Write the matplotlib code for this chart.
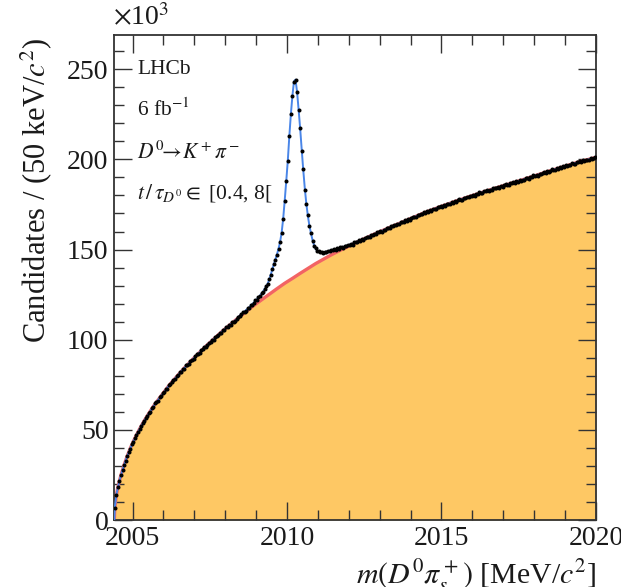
"""D*+ -> D0 pi+ mass distribution with total fit and background (LHCb style)."""

import numpy as np
import matplotlib

matplotlib.use("Agg")

import matplotlib.pyplot as plt
from matplotlib.ticker import MultipleLocator

PALETTE = {
    "fill": "#FEC864",
    "bkg": "#F26464",
    "fit": "#4A86E8",
    "data": "#000000",
    "ink": "#1A1A1A",
    "axis": "#333333",
}

plt.rcParams["font.family"] = ["Liberation Serif", "DejaVu Serif"]
plt.rcParams["mathtext.fontset"] = "stix"

# binning of the histogram, MeV/c^2
BIN_LO = 2004.4
BIN_WIDTH = 0.05

# candidates per bin, in units of 10^3
COUNTS = [
    6.9, 14.0, 18.1, 21.8, 24.8, 27.9, 30.6, 32.9, 35.3, 37.8,
    39.6, 41.9, 43.5, 45.6, 46.9, 49.0, 50.3, 51.9, 53.7, 54.8,
    56.7, 57.6, 59.5, 60.1, 61.9, 62.8, 64.8, 65.5, 66.2, 68.0,
    68.8, 70.4, 70.9, 72.5, 72.9, 74.8, 75.5, 76.3, 77.9, 78.2,
    79.8, 80.3, 81.9, 82.1, 83.5, 84.0, 85.7, 86.1, 86.6, 88.1,
    89.0, 89.3, 90.7, 91.9, 92.1, 92.7, 94.2, 94.7, 96.0, 96.1,
    97.1, 98.4, 98.5, 99.8, 99.9, 101.4, 101.9, 102.5, 103.9, 103.9,
    105.3, 105.5, 106.9, 106.8, 108.0, 108.3, 109.8, 110.1, 110.4, 111.7,
    112.8, 113.0, 114.2, 115.3, 115.4, 116.0, 117.5, 117.8, 119.2, 119.4,
    120.5, 121.9, 122.1, 123.7, 124.0, 125.9, 126.7, 127.9, 129.9, 130.9,
    133.6, 136.0, 139.3, 142.0, 144.4, 147.2, 150.4, 154.0, 159.1, 167.0,
    177.2, 188.0, 199.0, 213.2, 225.2, 235.2, 243.0, 244.0, 237.4, 227.6,
    217.4, 204.4, 194.6, 183.2, 175.4, 168.9, 163.3, 159.1, 155.0, 152.2,
    150.6, 149.3, 149.2, 148.4, 148.7, 148.3, 148.7, 148.6, 149.3, 149.1,
    149.9, 149.6, 150.5, 149.9, 150.6, 150.5, 151.5, 151.2, 151.0, 152.0,
    152.0, 152.8, 152.4, 153.2, 152.8, 154.0, 154.0, 154.2, 155.1, 154.8,
    155.6, 155.4, 156.3, 157.1, 156.8, 157.0, 158.0, 158.0, 158.9, 158.6,
    159.6, 159.5, 160.4, 160.0, 160.9, 160.9, 162.0, 161.9, 161.9, 162.8,
    162.9, 163.8, 163.4, 164.3, 163.9, 165.1, 165.2, 165.3, 166.3, 165.9,
    166.8, 166.6, 167.4, 168.2, 167.9, 168.0, 169.1, 169.1, 169.9, 169.6,
    170.6, 170.4, 171.3, 170.9, 171.7, 171.6, 172.7, 172.5, 172.5, 173.4,
    173.4, 174.2, 173.8, 174.6, 174.2, 175.3, 175.4, 175.5, 176.4, 176.0,
    176.8, 176.5, 177.3, 178.0, 177.6, 177.6, 178.6, 178.5, 179.3, 178.9,
    179.8, 179.6, 180.5, 179.9, 180.7, 180.6, 181.7, 181.5, 181.3, 182.2,
    182.2, 183.0, 182.5, 183.3, 182.9, 183.9, 183.9, 184.0, 184.9, 184.4,
    185.2, 184.9, 185.6, 186.3, 185.8, 185.9, 186.9, 186.7, 187.5, 187.0,
    187.9, 187.7, 188.6, 188.0, 188.8, 188.7, 189.8, 189.6, 189.4, 190.3,
    190.3, 191.1, 190.7, 191.4, 191.0, 192.1, 192.1, 192.2, 193.0, 192.6,
    193.4, 193.1, 193.8, 194.5, 194.0, 194.1, 195.1, 194.9, 195.7, 195.2,
    196.1, 195.9, 196.8, 196.2, 197.0, 196.9, 197.9, 197.7, 197.6, 198.4,
    198.4, 199.1, 198.7, 199.4, 198.9, 199.9, 199.9, 199.9, 200.7, 200.2, 200.6, 201.1,
]

# background component of the fit, sampled along the mass axis
BKG_MASS = [
    2004.41, 2004.425, 2004.475, 2004.525, 2004.575, 2004.625, 2004.675, 2004.725,
    2004.825, 2004.925, 2005.025, 2005.125, 2005.225, 2005.325, 2005.425, 2005.675,
    2005.925, 2006.175, 2006.425, 2006.675, 2006.925, 2007.175, 2007.425, 2007.675,
    2007.925, 2008.175, 2008.425, 2008.675, 2008.925, 2009.175, 2009.425, 2009.675,
    2009.925, 2010.175, 2010.425, 2010.675, 2010.925, 2011.175, 2011.425, 2011.675,
    2011.925, 2012.175, 2012.425, 2012.925, 2013.425, 2013.925, 2014.425, 2014.925,
    2015.425, 2015.925, 2016.425, 2016.925, 2017.425, 2017.925, 2018.425, 2018.925,
    2019.425, 2019.975, 2020.0,
]
BKG_VALUE = [
    0.0, 6.9, 13.9, 18.2, 21.7, 24.9, 27.8, 30.5,
    35.4, 39.7, 43.6, 47.1, 50.4, 53.5, 56.4, 63.1,
    68.9, 74.5, 79.5, 84.3, 88.8, 93.1, 97.2, 101.1,
    105.0, 108.6, 112.2, 115.6, 119.0, 122.1, 125.2, 128.3,
    131.3, 134.0, 136.8, 139.5, 142.2, 144.6, 147.0, 149.2,
    151.3, 153.4, 155.4, 159.3, 163.0, 166.6, 170.3, 173.5,
    176.6, 179.5, 182.3, 185.0, 187.6, 190.4, 193.2, 195.8,
    198.5, 201.0, 201.1,
]

# total fit in the signal region, one value per bin from bin 80 to bin 160
PEAK_FIRST_BIN = 80
FIT_PEAK = [
    112.6, 113.4, 114.1, 114.8, 115.6, 116.4, 117.2, 117.9, 118.8, 119.7,
    120.6, 121.5, 122.4, 123.5, 124.5, 125.6, 126.7, 128.1, 129.5, 131.2,
    133.4, 136.2, 139.1, 141.9, 144.6, 147.4, 150.5, 154.2, 159.3, 167.0,
    177.2, 188.0, 199.3, 213.0, 225.2, 235.4, 243.3, 244.2, 237.4, 227.6,
    217.2, 205.5, 194.2, 184.0, 175.4, 168.6, 163.2, 159.0, 155.3, 152.4,
    150.4, 149.5, 149.0, 148.6, 148.5, 148.5, 148.6, 148.8, 149.0, 149.3,
    149.6, 149.8, 150.1, 150.3, 150.5, 150.8, 151.0, 151.2, 151.4, 151.8,
    152.1, 152.4, 152.7, 153.0, 153.3, 153.7, 154.0, 154.4, 154.7, 155.1, 155.4,
]

X_TICKS = [2005, 2010, 2015, 2020]
Y_TICKS = [0, 50, 100, 150, 200, 250]


def main():
    counts = np.array(COUNTS)
    centres = BIN_LO + BIN_WIDTH * (np.arange(len(counts)) + 0.5)

    # total fit: background outside the peak window, fitted shape inside it
    peak_x = centres[PEAK_FIRST_BIN:PEAK_FIRST_BIN + len(FIT_PEAK)]
    bkg_x = np.array(BKG_MASS)
    bkg_y = np.array(BKG_VALUE)
    lo = bkg_x < peak_x[0]
    hi = bkg_x > peak_x[-1]
    fit_x = np.concatenate([bkg_x[lo], peak_x, bkg_x[hi]])
    fit_y = np.concatenate([bkg_y[lo], FIT_PEAK, bkg_y[hi]])

    fig = plt.figure(figsize=(6.21, 5.87), dpi=100)
    ax = fig.add_axes([0.1836, 0.1141, 0.7761, 0.8263])

    ax.fill_between(bkg_x, 0, bkg_y, color=PALETTE["fill"], linewidth=0, zorder=1)
    ax.plot(bkg_x, bkg_y, color=PALETTE["bkg"], linewidth=2.4, zorder=2)
    ax.plot(fit_x, fit_y, color=PALETTE["fit"], linewidth=1.4, zorder=3)
    ax.plot(centres, counts, "o", color=PALETTE["data"], markersize=2.9, markeredgewidth=0, zorder=4)

    ax.set_xlim(BIN_LO, 2020.0)
    ax.set_ylim(0, 269)
    ax.set_xticks(X_TICKS)
    ax.set_yticks(Y_TICKS)
    ax.xaxis.set_minor_locator(MultipleLocator(1))
    ax.yaxis.set_minor_locator(MultipleLocator(10))
    ax.tick_params(which="both", direction="in", top=True, right=True, colors=PALETTE["axis"],
                   labelcolor=PALETTE["ink"], labelsize=20, width=1.0)
    ax.tick_params(which="major", length=13, pad=4)
    ax.tick_params(which="minor", length=7)
    for sp in ax.spines.values():
        sp.set_linewidth(1.3)
        sp.set_color(PALETTE["axis"])

    ax.set_xlabel(r"$m(D^0\pi_s^+)$ [MeV/$c^2$]", fontsize=21.5, color=PALETTE["ink"], ha="right")
    ax.xaxis.set_label_coords(1.0, -0.078)
    ax.set_ylabel(r"Candidates / (50 keV/$c^2$)", fontsize=22, color=PALETTE["ink"], loc="top")
    ax.yaxis.set_label_coords(-0.125, 0.995)

    fig.text(113 / 621, 1 - 18 / 587, r"$\times$10$^3$", fontsize=20, ha="left", va="center",
             color=PALETTE["ink"])

    info = [
        (0.928, "LHCb"),
        (0.846, r"6 fb$^{-1}$"),
        (0.757, r"$D^0\!\!\rightarrow\! K^+\pi^-$"),
        (0.674, r"$t\,/\,\tau_{D^0}\in$ [0.4, 8["),
    ]
    for y, s in info:
        ax.text(0.048, y, s, transform=ax.transAxes, fontsize=15.5, ha="left", va="center",
                color=PALETTE["ink"])

    fig.savefig("out.png", dpi=100, facecolor="white")
    plt.close(fig)


if __name__ == "__main__":
    main()
